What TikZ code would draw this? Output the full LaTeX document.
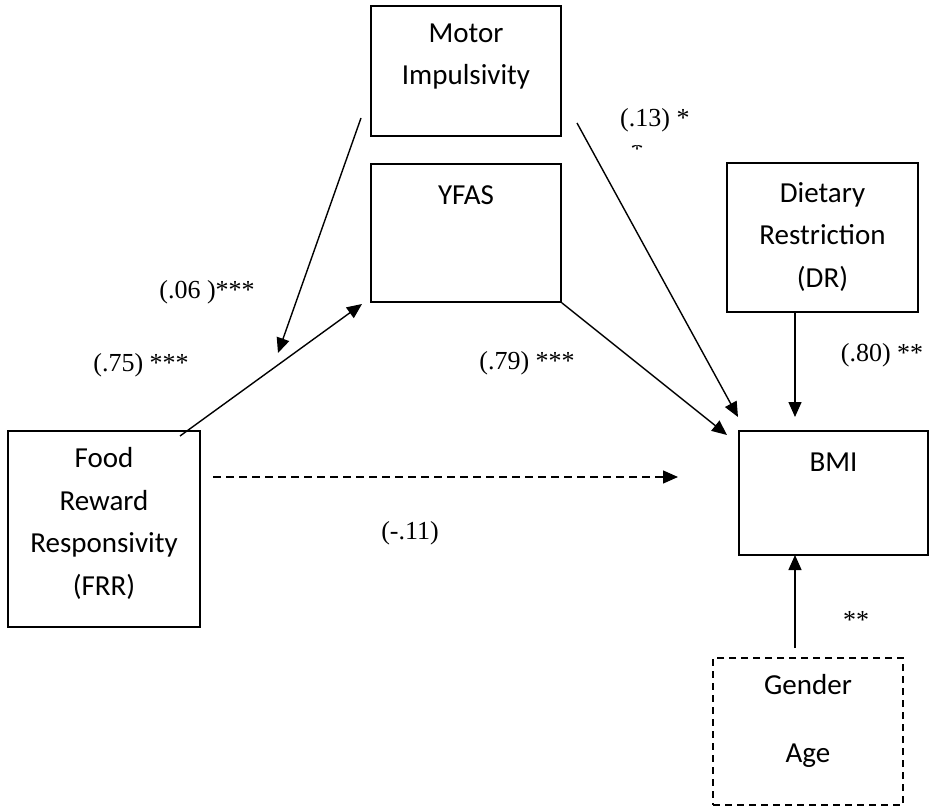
\documentclass[tikz,border=0pt]{standalone}
\usepackage{fontspec}
\setmainfont{Liberation Serif}
\newfontfamily\boxfont{Carlito}
\usetikzlibrary{arrows.meta}
\begin{document}
\begin{tikzpicture}[x=1pt,y=-1pt,
  box/.style={draw, line width=1.6pt, inner sep=0pt},
  dbox/.style={box, dash pattern=on 7pt off 5pt},
  btxt/.style={font=\boxfont\fontsize{29}{42.5}\selectfont, align=center, inner sep=0pt},
  lbl/.style={font=\fontsize{26}{30}\selectfont, inner sep=0pt},
  conn/.style={line width=1.4pt, -{Triangle[length=15pt,width=13pt]}},
  dconn/.style={conn, dash pattern=on 8pt off 5pt},
]
\useasboundingbox (0,0) rectangle (929,810);
% boxes
\node[box, minimum width=190pt, minimum height=130pt] (mi) at (466,71) {};
\node[box, minimum width=190pt, minimum height=138pt] (yfas) at (466,233) {};
\node[box, minimum width=191pt, minimum height=149pt] (dr) at (822.5,237.5) {};
\node[box, minimum width=189pt, minimum height=124pt] (bmi) at (833.5,493) {};
\node[box, minimum width=192pt, minimum height=196pt] (frr) at (104,529) {};
\node[dbox, minimum width=190pt, minimum height=147pt] (ga) at (808,731.5) {};
% box texts
\node[btxt] (mit) at (466,56.5) {Motor\\Impulsivity};
\node[btxt] (yfast) at (466,195) {YFAS};
\node[btxt] (drt) at (822.5,237) {Dietary\\Restriction\\(DR)};
\node[btxt] (bmit) at (833.5,462) {BMI};
\node[btxt] (frrt) at (104,523.5) {Food\\Reward\\Responsivity\\(FRR)};
\node[btxt, font=\boxfont\fontsize{29}{68}\selectfont] (gat) at (808,721) {Gender\\Age};
% connector end points
\coordinate (c1s) at (361,118);
\coordinate (c1e) at (278,353);
\coordinate (c2s) at (180,436);
\coordinate (c2e) at (362,304);
\coordinate (c3s) at (577,123);
\coordinate (c3e) at (738,417);
\coordinate (c4e) at (727,435);
\coordinate (c5s) at (213,477);
\coordinate (c5e) at (678,477);
\coordinate (c6s) at (795,312);
\coordinate (c6e) at (795,417);
\coordinate (c7s) at (795,648);
\coordinate (c7e) at (795,555);
% connectors
\draw[conn] (c1s) -- (c1e);
\draw[conn] (c2s) -- (c2e);
\draw[conn] (c3s) -- (c3e);
\draw[conn] (yfas.south east) -- (c4e);
\draw[dconn] (c5s) -- (c5e);
\draw[conn] (c6s) -- (c6e);
\draw[conn] (c7s) -- (c7e);
% labels
\node[lbl] (l06) at (207,292) {(.06 )***};
\node[lbl] (l75) at (141,365) {(.75) ***};
\node[lbl] (l79) at (527,363) {(.79) ***};
\node[lbl] (l11) at (410,533) {(-.11)};
\node[lbl] (l80) at (882,355) {(.80) **};
\node[lbl] (lss) at (856,620) {**};
\node[lbl, anchor=west] (l13) at (620,120) {(.13) *};
\begin{scope}
\clip (625,146) rectangle (650,162);
\node[lbl, anchor=base] (l13b) at (637,158) {*};
\end{scope}
\end{tikzpicture}
\end{document}
